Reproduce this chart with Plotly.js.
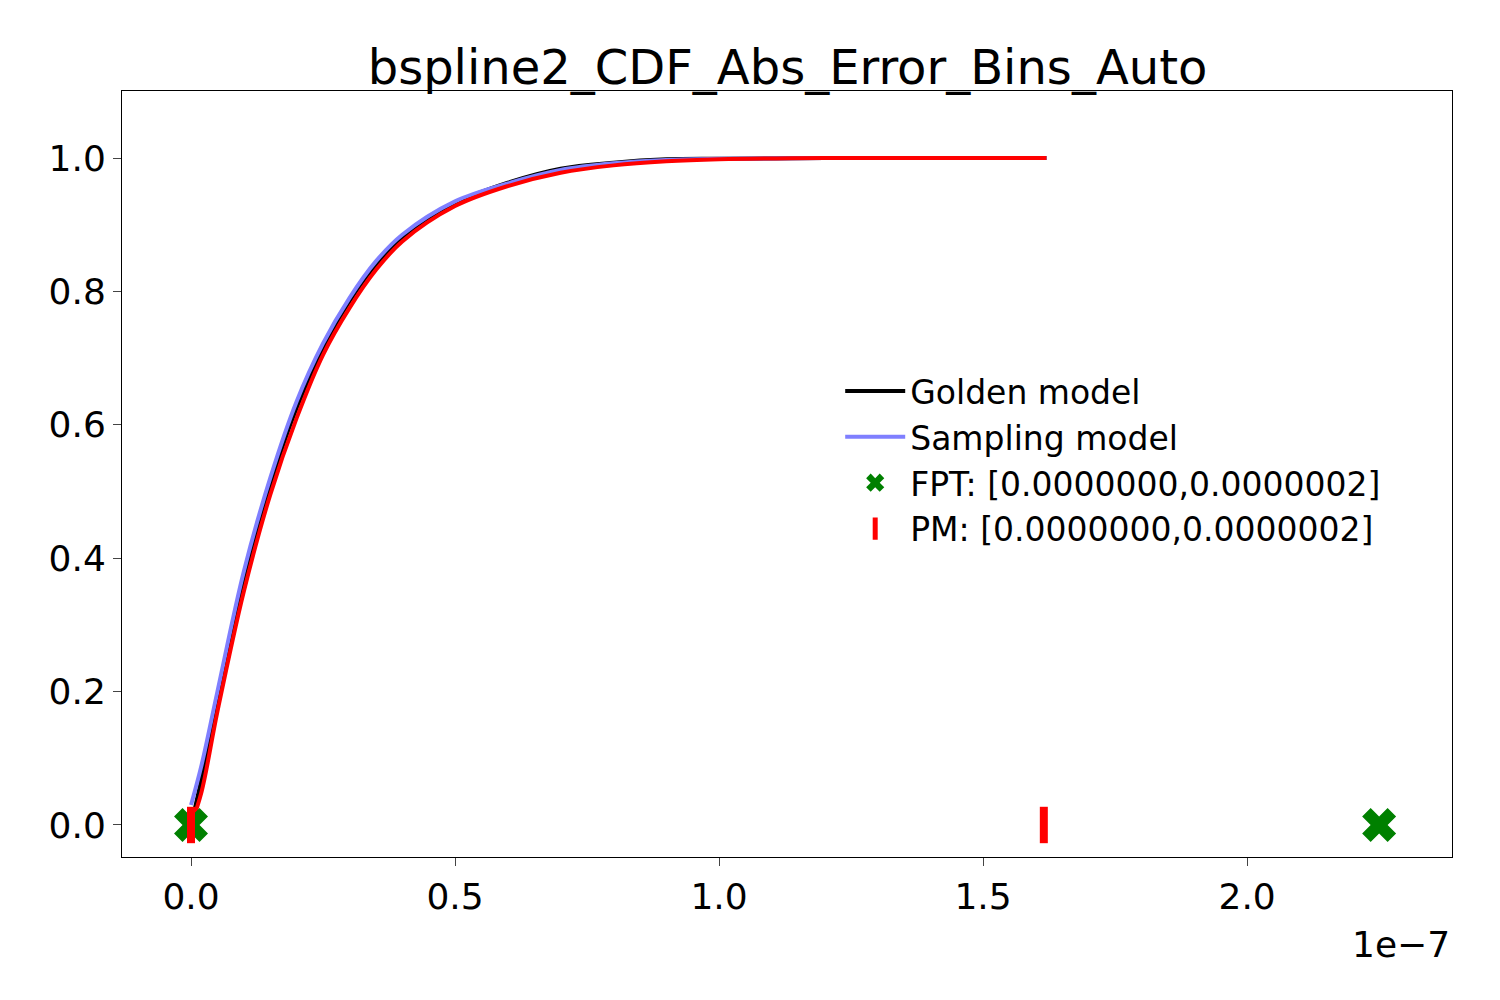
<!DOCTYPE html>
<html><head><script src="https://cdn.plot.ly/plotly-3.0.1.min.js"></script></head>
<body style="margin:0"><div id="plot" style="width:1500px;height:1000px"></div>
<script>
// x values in units of 1e-7
var xs = [0, 0.02, 0.05, 0.1, 0.15, 0.2, 0.25, 0.3, 0.35, 0.4, 0.5, 0.6, 0.7, 0.8, 0.9, 1.0, 1.2, 1.62];
var golden = [0, 0.07, 0.19, 0.37, 0.51, 0.625, 0.715, 0.785, 0.84, 0.88, 0.932, 0.963, 0.984, 0.993, 0.998, 0.999, 1.0, 1.0];
var sampling = [0.03, 0.09, 0.2, 0.38, 0.52, 0.635, 0.722, 0.79, 0.845, 0.885, 0.935, 0.962, 0.982, 0.992, 0.997, 0.999, 1.0, 1.0];
var pm = [0.0, 0.05, 0.17, 0.35, 0.495, 0.61, 0.705, 0.775, 0.832, 0.875, 0.928, 0.958, 0.978, 0.989, 0.995, 0.998, 1.0, 1.0];
var fptX = [0.0, 2.25];
var pmX = [0.0, 1.615];
var markY = [0, 0];

var data = [
  {x: xs, y: golden, type: "scatter", mode: "lines", name: "Golden model", line: {color: "black", width: 4, shape: "spline"}},
  {x: xs, y: sampling, type: "scatter", mode: "lines", name: "Sampling model", line: {color: "#7f7fff", width: 4, shape: "spline"}},
  {x: xs, y: pm, type: "scatter", mode: "lines", showlegend: false, line: {color: "red", width: 4, shape: "spline"}},
  {x: fptX, y: markY, type: "scatter", mode: "markers", name: "FPT: [0.0000000,0.0000002]",
   marker: {symbol: "x", size: 30, color: "green"}},
  {x: pmX, y: markY, type: "scatter", mode: "markers", name: "PM: [0.0000000,0.0000002]",
   marker: {symbol: "line-ns", size: 26, color: "red", line: {color: "red", width: 8}}}
];

var layout = {
  width: 1500, height: 1000,
  margin: {l: 122, r: 48, t: 91, b: 143},
  font: {family: "DejaVu Sans", size: 36, color: "black"},
  title: {text: "bspline2_CDF_Abs_Error_Bins_Auto", font: {size: 48}, x: 0.525, y: 0.933, yanchor: "middle", xanchor: "center"},
  plot_bgcolor: "white",
  showlegend: true,
  legend: {x: 0.54, y: 0.645, xanchor: "left", yanchor: "top", font: {size: 33}, itemwidth: 60, bgcolor: "rgba(0,0,0,0)"},
  xaxis: {range: [-0.1307, 2.388], tickvals: [0, 0.5, 1, 1.5, 2], ticktext: ["0.0", "0.5", "1.0", "1.5", "2.0"],
    showgrid: false, zeroline: false, showline: true, mirror: true, linecolor: "black", ticks: "outside", ticklen: 8},
  yaxis: {range: [-0.048, 1.1005], tickvals: [0, 0.2, 0.4, 0.6, 0.8, 1.0], ticktext: ["0.0", "0.2", "0.4", "0.6", "0.8", "1.0"],
    showgrid: false, zeroline: false, showline: true, mirror: true, linecolor: "black", ticks: "outside", ticklen: 8},
  annotations: [{text: "1e\u22127", xref: "paper", yref: "paper", x: 1, y: -0.085, xanchor: "right", yanchor: "top",
    showarrow: false, font: {size: 36}}]
};

Plotly.newPlot("plot", data, layout, {displayModeBar: false});
</script></body></html>
